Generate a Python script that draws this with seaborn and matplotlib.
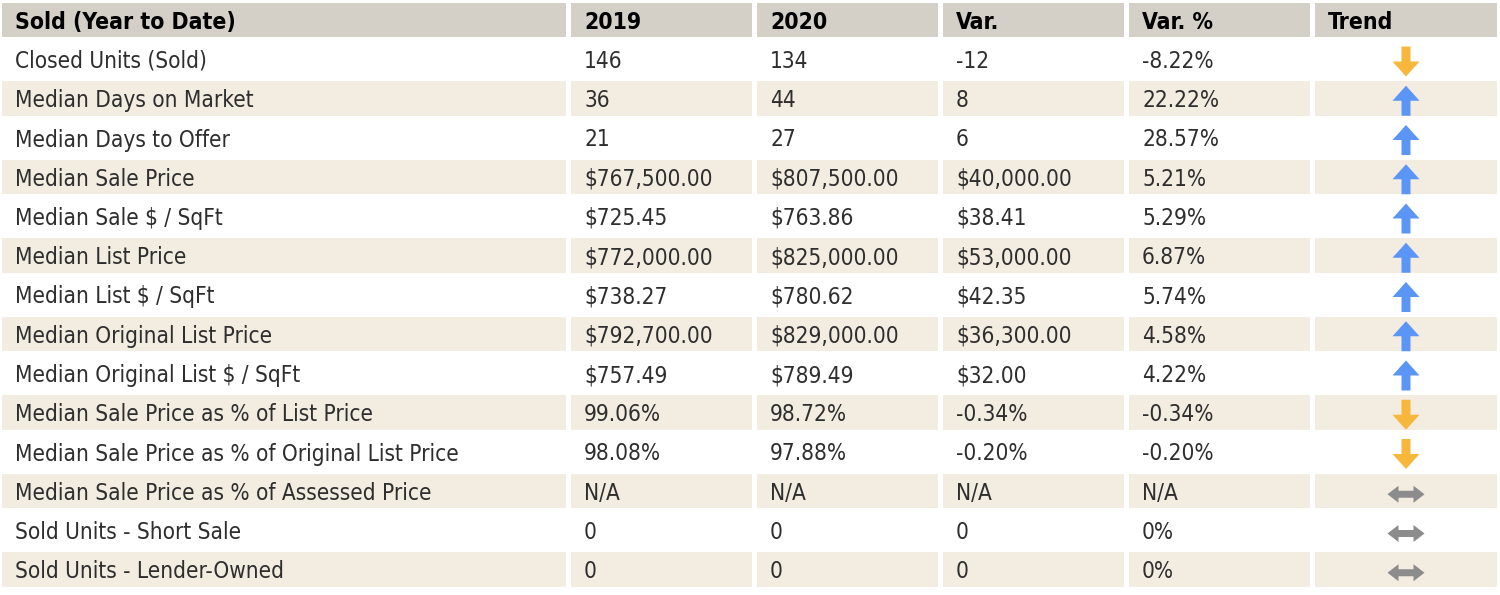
import matplotlib
matplotlib.use("Agg")
import matplotlib.pyplot as plt
from matplotlib.patches import Rectangle, Polygon
import seaborn as sns
import numpy as np

# table content
HEADERS = ["Sold (Year to Date)", "2019", "2020", "Var.", "Var. %", "Trend"]
METRICS = [
    "Closed Units (Sold)",
    "Median Days on Market",
    "Median Days to Offer",
    "Median Sale Price",
    "Median Sale $ / SqFt",
    "Median List Price",
    "Median List $ / SqFt",
    "Median Original List Price",
    "Median Original List $ / SqFt",
    "Median Sale Price as % of List Price",
    "Median Sale Price as % of Original List Price",
    "Median Sale Price as % of Assessed Price",
    "Sold Units - Short Sale",
    "Sold Units - Lender-Owned",
]
Y2019 = ["146", "36", "21", "$767,500.00", "$725.45", "$772,000.00", "$738.27",
         "$792,700.00", "$757.49", "99.06%", "98.08%", "N/A", "0", "0"]
Y2020 = ["134", "44", "27", "$807,500.00", "$763.86", "$825,000.00", "$780.62",
         "$829,000.00", "$789.49", "98.72%", "97.88%", "N/A", "0", "0"]
VAR = ["-12", "8", "6", "$40,000.00", "$38.41", "$53,000.00", "$42.35",
       "$36,300.00", "$32.00", "-0.34%", "-0.20%", "N/A", "0", "0"]
VAR_PCT = ["-8.22%", "22.22%", "28.57%", "5.21%", "5.29%", "6.87%", "5.74%",
           "4.58%", "4.22%", "-0.34%", "-0.20%", "N/A", "0%", "0%"]
TREND = ["down", "up", "up", "up", "up", "up", "up", "up", "up",
         "down", "down", "flat", "flat", "flat"]

HEADER_BG = "#d4d0c8"
STRIPE_BG = "#f2ece1"
TEXT_COL = "#2e2e2e"
ARROW_COL = {"up": "#5b96f7", "down": "#f6b73c", "flat": "#8c8c8c"}

# layout in pixels
W, H = 1500, 595
COL_L = [2, 571, 757, 943, 1129, 1315]
COL_R = [566, 752, 938, 1124, 1310, 1497]
ROW_TOP0, ROW_PITCH, ROW_H = 2.5, 39.25, 34.5
PAD = 13

# icon outlines around the icon centre (y grows downward)
ARROW_SHAPES = {
    "up": [(0, -15), (13.5, 0), (4.5, 0), (4.5, 15), (-4.5, 15), (-4.5, 0), (-13.5, 0)],
    "down": [(0, 15), (13.5, 0), (4.5, 0), (4.5, -15), (-4.5, -15), (-4.5, 0), (-13.5, 0)],
    "flat": [(-18.5, 0), (-7.5, -8.5), (-7.5, -3.5), (7.5, -3.5), (7.5, -8.5), (18.5, 0),
             (7.5, 8.5), (7.5, 3.5), (-7.5, 3.5), (-7.5, 8.5)],
}
ARROW_DY = {"up": 2.5, "down": 2.5, "flat": 3.5}

sns.set_theme(style="white")
plt.rcParams["font.family"] = ["DejaVu Sans"]

fig = plt.figure(figsize=(W / 100, H / 100), dpi=100)
ax = fig.add_axes([0, 0, 1, 1])
ax.set_xlim(0, W)
ax.set_ylim(H, 0)
ax.axis("off")


def fit_size(text, target_px, weight="normal", stretch="normal"):
    t = ax.text(0, 0, text, fontsize=10, fontweight=weight, fontstretch=stretch)
    r = fig.canvas.get_renderer()
    w = t.get_window_extent(renderer=r).width
    t.remove()
    return 10 * target_px / w


body_fs = fit_size(METRICS[10], 445, stretch="condensed")
head_fs = fit_size(HEADERS[0], 220, weight="bold", stretch="condensed")

columns = [METRICS, Y2019, Y2020, VAR, VAR_PCT]

# header
for c, label in enumerate(HEADERS):
    ax.add_patch(Rectangle((COL_L[c], ROW_TOP0), COL_R[c] - COL_L[c], ROW_H,
                           facecolor=HEADER_BG, edgecolor="none"))
    ax.text(COL_L[c] + PAD, ROW_TOP0 + ROW_H / 2, label, fontsize=head_fs,
            fontweight="bold", fontstretch="condensed", color="black",
            va="center_baseline", ha="left")

# body rows
for i in range(len(METRICS)):
    top = ROW_TOP0 + (i + 1) * ROW_PITCH
    yc = top + ROW_H / 2
    if i % 2 == 1:
        for c in range(len(HEADERS)):
            ax.add_patch(Rectangle((COL_L[c], top), COL_R[c] - COL_L[c], ROW_H,
                                   facecolor=STRIPE_BG, edgecolor="none"))
    for c, col in enumerate(columns):
        ax.text(COL_L[c] + PAD, yc, col[i], fontsize=body_fs, fontstretch="condensed",
                color=TEXT_COL, va="center_baseline", ha="left")
    xc = (COL_L[5] + COL_R[5]) / 2
    shape = np.array(ARROW_SHAPES[TREND[i]]) + [xc, yc + ARROW_DY[TREND[i]]]
    ax.add_patch(Polygon(shape, closed=True, facecolor=ARROW_COL[TREND[i]],
                         edgecolor="none"))

fig.savefig("out.png", dpi=100, facecolor="white")
